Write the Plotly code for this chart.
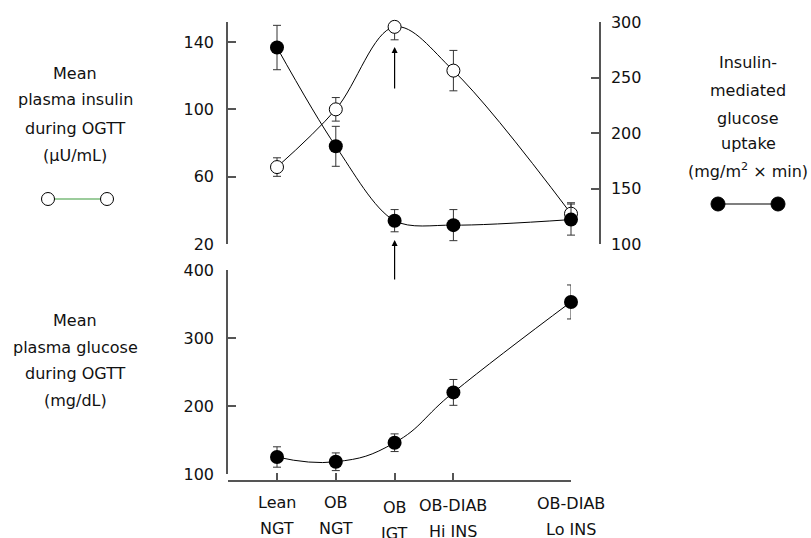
import plotly.graph_objects as go

# ---------------- data ----------------
categories = ["Lean<br>NGT", "OB<br>NGT", "OB<br>IGT", "OB-DIAB<br>Hi INS", "OB-DIAB<br>Lo INS"]
category_index = [1, 2, 3, 4, 6]

insulin_mean = [65.7, 100, 149, 123, 38]          # µU/mL (left axis, top)
insulin_err_up = [5.5, 7, 2, 12, 6.5]
insulin_err_down = [5.5, 7, 7.7, 12, 6.5]

uptake_mean = [277, 188, 121, 117, 122]           # mg/m2 x min (right axis, top)
uptake_err = [20, 18, 10, 14, 14]

glucose_mean = [125, 118, 146, 220, 353]          # mg/dL (bottom panel)
glucose_err = [15, 13, 13, 19, 25]

insulin_ticks = [20, 60, 100, 140]
uptake_ticks = [100, 150, 200, 250, 300]
glucose_ticks = [100, 200, 300, 400]

# ---------------- layout helpers ----------------
W, H = 811, 538
L, R, T, B = 228, 212, 22, 57
PW, PH = W - L - R, H - T - B


def px(xp):
    return (xp - L) / PW


def py(yp):
    return (H - B - yp) / PH


FONT = "DejaVu Sans"
FS = 16
AXC = "#555555"
TXC = "#111111"

fig = go.Figure()

fig.add_trace(go.Scatter(
    x=category_index, y=insulin_mean, xaxis="x", yaxis="y",
    mode="lines+markers", line=dict(color="black", width=1, shape="spline", smoothing=1.0),
    marker=dict(symbol="circle", size=13, color="white", line=dict(color="black", width=1)),
    error_y=dict(type="data", symmetric=False, array=insulin_err_up, arrayminus=insulin_err_down,
                 color="#333333", thickness=1, width=4),
    cliponaxis=False, showlegend=False,
))
fig.add_trace(go.Scatter(
    x=category_index, y=uptake_mean, xaxis="x", yaxis="y2",
    mode="lines+markers", line=dict(color="black", width=1, shape="spline", smoothing=0.9),
    marker=dict(symbol="circle", size=14, color="black"),
    error_y=dict(type="data", array=uptake_err, color="#333333", thickness=1, width=4),
    cliponaxis=False, showlegend=False,
))
fig.add_trace(go.Scatter(
    x=category_index, y=glucose_mean, xaxis="x2", yaxis="y3",
    mode="lines+markers", line=dict(color="black", width=1, shape="spline", smoothing=1.3),
    marker=dict(symbol="circle", size=14, color="black"),
    error_y=dict(type="data", array=glucose_err, color="#333333", thickness=1, width=4),
    cliponaxis=False, showlegend=False,
))

x_scale = (571 - 277) / 5.0
x_lo = 1 - (277 - L) / x_scale
x_hi = 6 + (L + PW - 571) / x_scale

ytop_lo = py(244)
ybot_hi = py(270)
ybot_lo = py(474)

tickfont = dict(family=FONT, size=FS, color=TXC)

fig.update_layout(
    width=W, height=H,
    margin=dict(l=L, r=R, t=T, b=B),
    plot_bgcolor="white", paper_bgcolor="white",
    font=dict(family=FONT, size=FS, color=TXC),
    xaxis=dict(domain=[0, 1], range=[x_lo, x_hi], anchor="y", visible=False),
    xaxis2=dict(domain=[0, px(571)], range=[x_lo, 6], anchor="free", position=0,
                showline=True, linecolor=AXC, linewidth=1.5, ticks="inside", ticklen=7,
                tickcolor=AXC, tickwidth=1.5, tickvals=category_index, showticklabels=False,
                showgrid=False, zeroline=False),
    yaxis=dict(domain=[ytop_lo, 1], range=[20, 20 + (244 - 22) / (202 / 120)], anchor="x",
               showline=True, linecolor=AXC, linewidth=1.5, ticks="inside", ticklen=8,
               tickcolor=AXC, tickwidth=1.5, tickvals=insulin_ticks, tickfont=tickfont,
               ticklabelstandoff=9, showgrid=False, zeroline=False),
    yaxis2=dict(domain=[ytop_lo, 1], range=[100, 300], overlaying="y", side="right", anchor="x",
                showline=True, linecolor=AXC, linewidth=1.5, ticks="inside", ticklen=8,
                tickcolor=AXC, tickwidth=1.5, tickvals=uptake_ticks, tickfont=tickfont,
                ticklabelstandoff=7, showgrid=False, zeroline=False),
    yaxis3=dict(domain=[ybot_lo, ybot_hi], range=[100, 400], anchor="x2",
                showline=True, linecolor=AXC, linewidth=1.5, ticks="inside", ticklen=8,
                tickcolor=AXC, tickwidth=1.5, tickvals=glucose_ticks, tickfont=tickfont,
                ticklabelstandoff=9, showgrid=False, zeroline=False),
)

ann = []


def text_lines(lines, xc, ys):
    for t, y in zip(lines, ys):
        ann.append(dict(text=t, x=px(xc), y=py(y), xref="paper", yref="paper",
                        xanchor="center", yanchor="middle", showarrow=False,
                        font=dict(family=FONT, size=FS, color=TXC)))


text_lines(["Mean", "plasma insulin", "during OGTT", "(\u03bcU/mL)"], 75, [73, 100, 128, 155])
text_lines(["Insulin-", "mediated", "glucose", "uptake", "(mg/m<sup>2</sup> \u00d7 min)"],
           748, [63, 90, 118, 143, 170])
text_lines(["Mean", "plasma glucose", "during OGTT", "(mg/dL)"], 75, [320, 347, 373, 400])

# category labels under the bottom axis
label_rows = [(502, 528), (502, 528), (507, 533), (505, 531), (503, 529)]
for cx, lab, (y1, y2) in zip(category_index, categories, label_rows):
    parts = lab.split("<br>")
    for t, yy in zip(parts, (y1, y2)):
        ann.append(dict(text=t, x=cx, xref="x2", y=py(yy), yref="paper",
                        xanchor="center", yanchor="middle", showarrow=False,
                        font=dict(family=FONT, size=FS, color=TXC)))

# arrows at OB IGT
ann.append(dict(x=3, y=insulin_mean[2] - 12, xref="x", yref="y", text="",
                showarrow=True, arrowhead=2, arrowsize=1, arrowwidth=1.2, arrowcolor="black",
                ax=0, ay=43))
ann.append(dict(x=3, y=20 + 4 / (202 / 120), xref="x", yref="y", text="",
                showarrow=True, arrowhead=2, arrowsize=1, arrowwidth=1.2, arrowcolor="black",
                ax=0, ay=41))

fig.update_layout(annotations=ann)

# legend keys
shapes = []
shapes.append(dict(type="line", xref="paper", yref="paper", x0=px(48), x1=px(107),
                   y0=py(199), y1=py(199), line=dict(color="#3a9a3a", width=1.2)))
for cx in (48, 107):
    shapes.append(dict(type="circle", xref="paper", yref="paper",
                       x0=px(cx - 6.5), x1=px(cx + 6.5), y0=py(199 + 6.5), y1=py(199 - 6.5),
                       fillcolor="white", line=dict(color="black", width=1)))
shapes.append(dict(type="line", xref="paper", yref="paper", x0=px(718), x1=px(778),
                   y0=py(204), y1=py(204), line=dict(color="black", width=1.2)))
for cx in (718, 778):
    shapes.append(dict(type="circle", xref="paper", yref="paper",
                       x0=px(cx - 7), x1=px(cx + 7), y0=py(204 + 7), y1=py(204 - 7),
                       fillcolor="black", line=dict(color="black", width=1)))
fig.update_layout(shapes=shapes)

fig.write_html("out.html", config={"displayModeBar": False},
               post_script="document.body.style.margin='0px';")
